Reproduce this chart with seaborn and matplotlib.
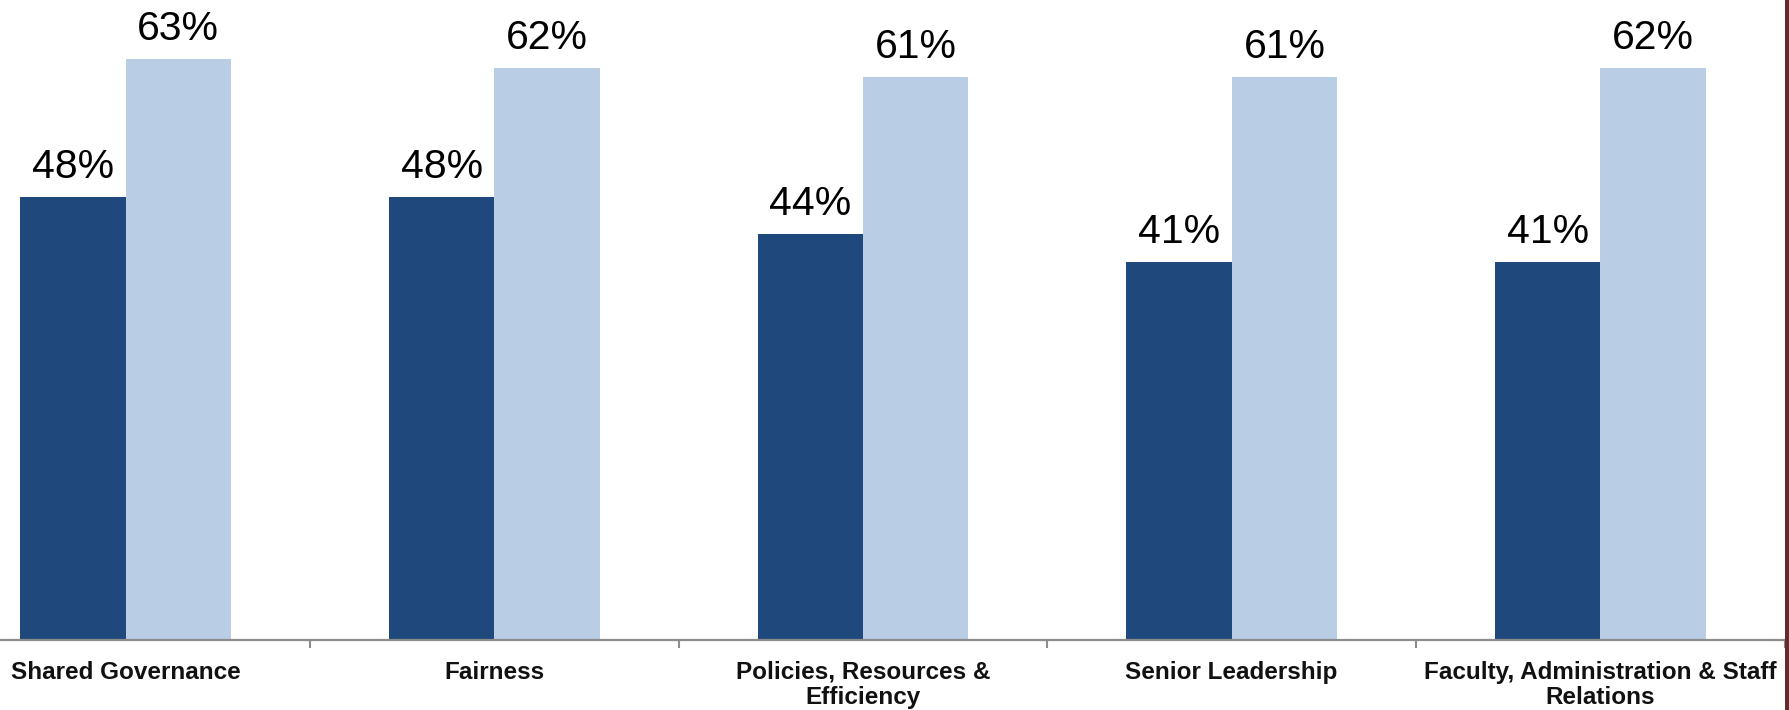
import matplotlib
matplotlib.use("Agg")
import matplotlib.pyplot as plt
from matplotlib.lines import Line2D
import seaborn as sns
import pandas as pd

categories = ["Shared Governance", "Fairness", "Policies, Resources &\nEfficiency",
              "Senior Leadership", "Faculty, Administration & Staff\nRelations"]
series_names = ["Group A", "Group B"]
values_a = [48, 48, 44, 41, 41]
values_b = [63, 62, 61, 61, 62]

df = pd.DataFrame({
    "category": categories * 2,
    "series": [series_names[0]] * len(categories) + [series_names[1]] * len(categories),
    "value": values_a + values_b,
})

sns.set_theme(style="white")
plt.rcParams["font.family"] = ["Liberation Sans", "DejaVu Sans"]

W, H = 1789, 710
fig = plt.figure(figsize=(W / 100, H / 100), dpi=100)
# plot area: category 0 begins slightly left of the canvas edge
left_px, right_px, base_px = -58.7, 1784.7, 640
ax = fig.add_axes([left_px / W, (H - base_px) / H, (right_px - left_px) / W, base_px / H])

sns.barplot(data=df, x="category", y="value", hue="series",
            palette=["#1F497D", "#B9CDE5"], width=0.572, gap=0,
            saturation=1, legend=False, linewidth=0, edgecolor="none", ax=ax)

ax.set_xlim(-0.5, len(categories) - 0.5)
ax.set_ylim(0, 69.4)
ax.set_xlabel("")
ax.set_ylabel("")
ax.set_yticks([])

for s in ["top", "right", "left"]:
    ax.spines[s].set_visible(False)
ax.spines["bottom"].set_color("#8c8c8c")
ax.spines["bottom"].set_linewidth(1.6)

ax.set_xticks(range(len(categories)))
ax.set_xticklabels(categories, fontsize=17.5, fontweight="bold", linespacing=1.1,
                   color="#111111")
ax.tick_params(axis="x", which="major", length=0, pad=15)
ax.set_xticks([i + 0.5 for i in range(-1, len(categories))], minor=True)
ax.tick_params(axis="x", which="minor", length=6, width=1.5, color="#8c8c8c",
               direction="out", bottom=True)

for cont in ax.containers:
    ax.bar_label(cont, fmt="%g%%", fontsize=29.5, padding=8, color="#000000")

# dark frame edge on the right
fig.add_artist(Line2D([1786.5 / W, 1786.5 / W], [0, 1], transform=fig.transFigure,
                      color="#6B2A2A", linewidth=3.6))

fig.savefig("out.png", dpi=100)
